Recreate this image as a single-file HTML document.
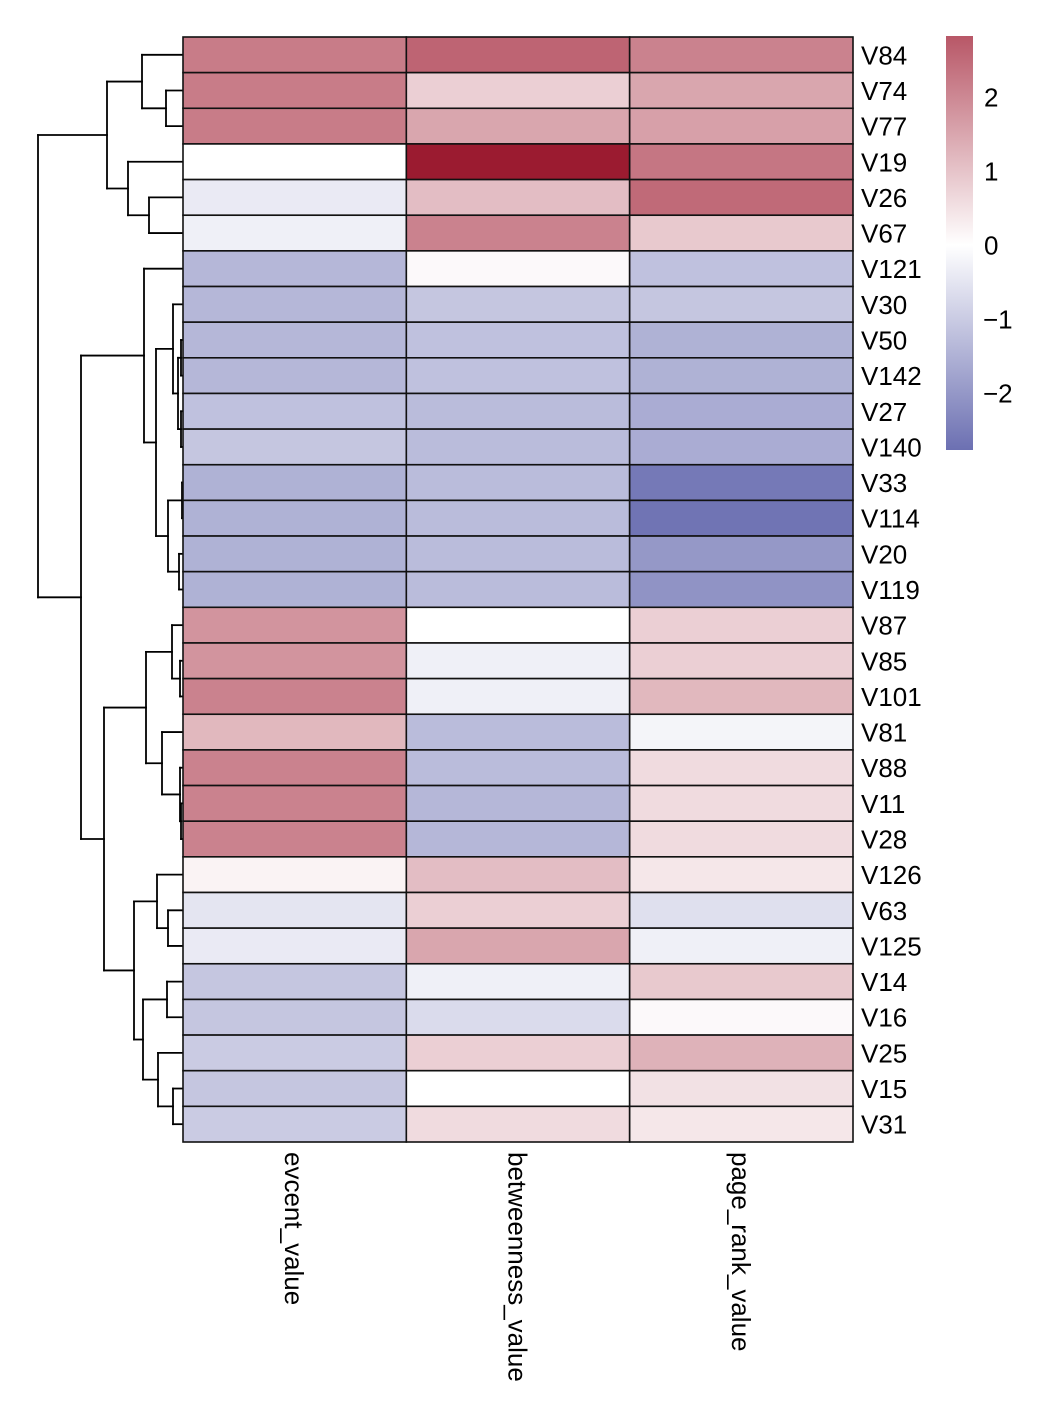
<!DOCTYPE html>
<html><head><meta charset="utf-8">
<style>
html,body{margin:0;padding:0;background:#fff;}
svg{display:block;font-family:"Liberation Sans",Arial,sans-serif;}
</style></head>
<body>
<svg id="chart" width="1046" height="1414" viewBox="0 0 1046 1414">
<defs>
<linearGradient id="cbg" x1="0" y1="1" x2="0" y2="0">
<stop offset="0" stop-color="#6c70b2"/>
<stop offset="0.495" stop-color="#ffffff"/>
<stop offset="1" stop-color="#b85767"/>
</linearGradient>
</defs>
<g id="dendro"></g>
<g id="cells"></g>
<g id="rowlabels"></g>
<g id="collabels"></g>
<g>
<rect x="946" y="36" width="27" height="414" fill="url(#cbg)"/>
<g id="cbticks"></g>
</g>
</svg>
<script>
const rowNames = ["V84","V74","V77","V19","V26","V67","V121","V30","V50","V142","V27","V140","V33","V114","V20","V119","V87","V85","V101","V81","V88","V11","V28","V126","V63","V125","V14","V16","V25","V15","V31"];
const colNames = ["evcent_value","betweenness_value","page_rank_value"];
const evcent = [2.2,2.2,2.2,0.0,-0.4,-0.3,-1.4,-1.4,-1.4,-1.4,-1.2,-1.1,-1.5,-1.5,-1.5,-1.5,1.8,1.8,2.1,1.2,2.1,2.1,2.1,0.2,-0.5,-0.4,-1.1,-1.1,-1.0,-1.1,-1.0];
const betweenness = [2.6,0.8,1.5,4.0,1.1,2.1,0.1,-1.1,-1.2,-1.2,-1.3,-1.3,-1.3,-1.3,-1.3,-1.3,0.0,-0.3,-0.3,-1.3,-1.3,-1.4,-1.4,1.1,0.8,1.5,-0.3,-0.7,0.8,0.0,0.6];
const pageRank = [2.1,1.5,1.6,2.3,2.5,0.9,-1.2,-1.1,-1.5,-1.5,-1.6,-1.6,-2.6,-2.7,-2.0,-2.1,0.8,0.8,1.2,-0.2,0.6,0.6,0.6,0.4,-0.6,-0.3,0.9,0.1,1.3,0.5,0.4];
const cbTicks = [2,1,0,-1,-2];
// dendrogram: [mergeHeight(px x), left, right]; leaves are row indices
const tree = [38,
  [107,[142,0,[166,1,2]],[128,3,[149,4,5]]],
  [81,
    [144,6,[156,[173,7,[178,[181,8,9],[181,10,11]]],[168,[182,12,13],[179,14,15]]]],
    [104,
      [146,[172,16,[180,17,18]],[162,19,[180,20,[181,21,22]]]],
      [134,[157,23,[168,24,25]],[143,[167,26,27],[158,28,[173,29,30]]]]]]];

const NS="http://www.w3.org/2000/svg";
const X0=183,X1=853,Y0=37,Y1=1142;
const nR=rowNames.length, nC=colNames.length;
const rh=(Y1-Y0)/nR, cw=(X1-X0)/nC;
const yRow=i=>Y0+(i+0.5)*rh;
const cbY=v=>245-74*v;
function mix(a,b,t){const p=s=>[1,3,5].map(k=>parseInt(s.substr(k,2),16));const A=p(a),B=p(b);return "rgb("+A.map((x,i)=>Math.round(x+(B[i]-x)*t)).join(",")+")";}
function color(v){
  if(v<0){return mix("#ffffff","#6c70b2",Math.min(1,-v/2.77));}
  if(v<=2.82) return mix("#ffffff","#b85767",v/2.82);
  return mix("#b85767","#9b1b30",Math.min(1,(v-2.82)/1.18));
}
const series=[evcent,betweenness,pageRank];
const cells=document.getElementById("cells");
for(let c=0;c<nC;c++){for(let r=0;r<nR;r++){
  const el=document.createElementNS(NS,"rect");
  el.setAttribute("x",X0+c*cw);el.setAttribute("y",Y0+r*rh);
  el.setAttribute("width",cw);el.setAttribute("height",rh);
  el.setAttribute("fill",color(series[c][r]));
  el.setAttribute("stroke","#111");el.setAttribute("stroke-width","1.6");
  
  
  cells.appendChild(el);
}}
const rl=document.getElementById("rowlabels");
rowNames.forEach((n,i)=>{
  const t=document.createElementNS(NS,"text");
  t.setAttribute("x",861);t.setAttribute("y",yRow(i)+9.5);
  t.setAttribute("font-size","26");t.textContent=n;
  
  
  rl.appendChild(t);
});
const cl=document.getElementById("collabels");
colNames.forEach((n,i)=>{
  const t=document.createElementNS(NS,"text");
  const x=X0+(i+0.5)*cw-9.5, y=1152;
  t.setAttribute("transform","translate("+x+","+y+") rotate(90)");
  t.setAttribute("font-size","26");t.textContent=n;
  
  
  cl.appendChild(t);
});
const cb=document.getElementById("cbticks");
cbTicks.forEach(v=>{
  const t=document.createElementNS(NS,"text");
  t.setAttribute("x",v<0?983:984);t.setAttribute("y",cbY(v)+9.5);
  t.setAttribute("font-size","26");t.textContent=v<0?"\u2212"+(-v):String(v);
  
  
  cb.appendChild(t);
});
const dg=document.getElementById("dendro");
function line(x1,y1,x2,y2){
  const l=document.createElementNS(NS,"line");
  l.setAttribute("x1",x1);l.setAttribute("y1",y1);l.setAttribute("x2",x2);l.setAttribute("y2",y2);
  l.setAttribute("stroke","#000");l.setAttribute("stroke-width","1.8");l.setAttribute("stroke-linecap","square");
  
  
  dg.appendChild(l);
}
function draw(node){
  if(typeof node==="number") return {x:X0,y:yRow(node)};
  const h=node[0],a=draw(node[1]),b=draw(node[2]);
  line(h,a.y,a.x,a.y);line(h,b.y,b.x,b.y);line(h,a.y,h,b.y);
  return {x:h,y:(a.y+b.y)/2};
}
draw(tree);
</script>
</body></html>
